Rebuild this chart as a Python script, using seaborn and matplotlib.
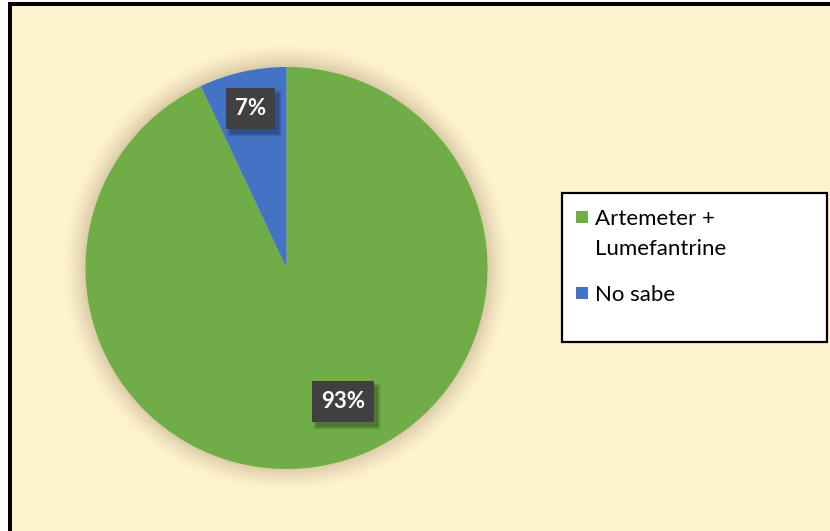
import textwrap
import numpy as np
import matplotlib
matplotlib.use("Agg")
import matplotlib.pyplot as plt
from matplotlib.patches import Rectangle
from matplotlib.transforms import IdentityTransform
import seaborn as sns

# Data
categories = ["Artemeter + Lumefantrine", "No sabe"]
shares = [93, 7]
colors = ["#70AD47", "#4472C4"]
label_texts = ["93%", "7%"]

sns.set_style("white")
plt.rcParams["font.family"] = ["Lato", "DejaVu Sans"]

W, H = 830, 531
DPI = 100
fig = plt.figure(figsize=(W / DPI, H / DPI), dpi=DPI, facecolor="white")

# Background panel in pixel coordinates (y down)
bg = fig.add_axes([0, 0, 1, 1])
bg.set_xlim(0, W)
bg.set_ylim(H, 0)
bg.axis("off")
bg.add_patch(Rectangle((8, 2), W, H, facecolor="black", edgecolor="none"))
bg.add_patch(Rectangle((12, 6), W, H, facecolor="#FFF2CF", edgecolor="none"))

# Pie geometry (pixels)
cx, cy, R = 286.5, 268.0, 201.0
ext = 1.3  # axes half-size in pie radii
half = R * ext
ax = fig.add_axes([(cx - half) / W, (H - cy - half) / H, 2 * half / W, 2 * half / H])
ax.set_facecolor("none")
ax.axis("off")

# Soft shadow around the pie
n = 600
g = np.linspace(-ext, ext, n)
xx, yy = np.meshgrid(g, g)
rr = np.hypot(xx, yy)
t = np.clip((rr - 1.0) / 0.12, 0, 1)
alpha = 0.27 * (1 - t) ** 1.5
img = np.zeros((n, n, 4))
img[..., 0] = 120 / 255
img[..., 1] = 100 / 255
img[..., 2] = 60 / 255
img[..., 3] = alpha
ax.imshow(img, extent=(-ext, ext, -ext, ext), origin="lower", zorder=0,
          interpolation="bilinear")

wedges, _ = ax.pie(shares, colors=colors, startangle=90, counterclock=False,
                   radius=1.0, center=(0, 0), wedgeprops=dict(linewidth=0))
for w in wedges:
    w.set_zorder(2)
ax.set_xlim(-ext, ext)
ax.set_ylim(-ext, ext)
ax.set_aspect("auto")

# Data labels: white bold text on dark boxes with a soft drop shadow
label_pos = [(0.28, -0.665), (-0.178, 0.795)]
texts = []
for (lx, ly), txt in zip(label_pos, label_texts):
    texts.append(ax.text(lx, ly, txt, ha="center", va="center", fontsize=16,
                         fontweight="bold", color="white", zorder=6))

fig.canvas.draw()
renderer = fig.canvas.get_renderer()
box_h = 41
pad_x = 9
for tx in texts:
    bb = tx.get_window_extent(renderer)
    mx = 0.5 * (bb.x0 + bb.x1)
    my = 0.5 * (bb.y0 + bb.y1)
    bw = bb.width + 2 * pad_x
    x0, y0 = mx - bw / 2, my - box_h / 2
    # blurred shadow, offset down-right
    for k, a in [(6, 0.05), (4, 0.07), (2, 0.09), (0, 0.12)]:
        ax.add_patch(Rectangle((x0 + 4 - k / 2, y0 - 5 - k / 2), bw + k, box_h + k,
                               facecolor="black", edgecolor="none", alpha=a,
                               transform=IdentityTransform(), zorder=4))
    ax.add_patch(Rectangle((x0, y0), bw, box_h, facecolor="#404040", edgecolor="none",
                           transform=IdentityTransform(), zorder=5))

# Legend
bg.add_patch(Rectangle((562, 193), 265, 149, facecolor="white", edgecolor="black",
                       linewidth=1.6, zorder=5))
entry_tops = [211, 287]
line_step = 30
for cat, col, top in zip(categories, colors, entry_tops):
    bg.add_patch(Rectangle((576, top), 12, 12, facecolor=col, edgecolor="none", zorder=6))
    for i, line in enumerate(textwrap.wrap(cat, 12)):
        bg.text(595, top + 6 + i * line_step, line, ha="left", va="center_baseline",
                fontsize=16, color="black", zorder=6)

fig.savefig("out.png", dpi=DPI, facecolor="white")
